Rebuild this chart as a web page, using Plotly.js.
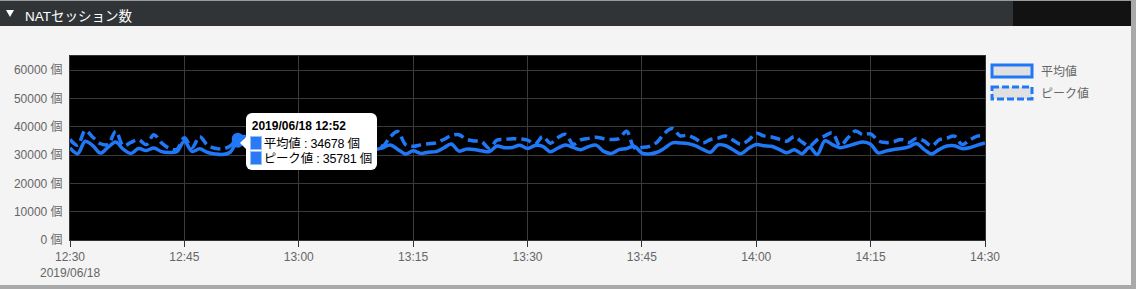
<!DOCTYPE html>
<html>
<head>
<meta charset="utf-8">
<script src="https://cdn.plot.ly/plotly-3.0.1.min.js"></script>
<style>
  html, body { margin:0; padding:0; }
  body { width:1136px; height:289px; background:#a9a9a9; position:relative; overflow:hidden;
         font-family: Arial, "Liberation Sans", "Noto Sans CJK JP", sans-serif; }
  #panel { position:absolute; left:0; top:0; width:1131px; height:285px; background:#f4f4f4; }
  #header { position:absolute; left:0; top:0; width:1131px; height:26px; background:#303436;
            border-top:1px solid #9a9a9a; box-sizing:border-box; z-index:5; }
  #header .dark { position:absolute; left:1013px; top:0; width:118px; height:25px; background:#121212; }
  #header .tri { position:absolute; left:6px; top:9px; width:0; height:0;
                 border-left:4.5px solid transparent; border-right:4.5px solid transparent; border-top:7px solid #fff; }
  #header .ttl { position:absolute; left:25px; top:4px; color:#fff; font-size:13.5px;
                 font-family: Arial, "Liberation Sans", "Noto Sans CJK JP", sans-serif; }
  #chart { position:absolute; left:0; top:0; width:1131px; height:285px; }
  #tip { position:absolute; z-index:4; background:#fff; border-radius:6px; width:131px; height:57px;
         box-sizing:border-box; padding:6px 0 0 4px; color:#000; display:none;
         font-family: Arial, "Liberation Sans", "Noto Sans CJK JP", sans-serif; }
  #tip:before { content:""; position:absolute; left:-6px; top:24px; border-top:6px solid transparent;
                border-bottom:6px solid transparent; border-right:6px solid #fff; }
  #tip .t { font-weight:bold; font-size:12px; line-height:14px; margin-bottom:3px; padding-left:2px; }
  #tip .r { font-size:12.5px; line-height:14px; white-space:nowrap; letter-spacing:-0.2px; }
  #tip .sq { display:inline-block; width:10px; height:12px; background:#2a7af5; border:1px solid #95bdf8;
             vertical-align:-2px; margin-right:2px; }
</style>
</head>
<body>
<div id="panel"></div>
<div id="chart"></div>
<div id="header"><div class="dark"></div><span class="tri"></span><span class="ttl">NATセッション数</span></div>
<div id="tip"></div>
<script>
// ---- data ----
const startTime = "2019-06-18 12:30";
const seriesNames = ["平均値", "ピーク値"];
const avgValues = [
  32500,30500,34900,33300,30700,32800,34600,32000,30600,32300,
  31600,32500,31200,30900,31200,34900,31300,32200,31000,30400,
  30200,31000,34678,33500,31800,32600,33900,31200,30800,32400,
  33100,31500,32800,34200,31400,30900,32300,33000,31600,32100,
  31900,32600,33600,32000,30400,31500,30600,31000,31200,32500,
  33900,31400,32100,32000,31500,31200,33200,32600,32700,33500,
  32300,33400,33100,31200,32500,33600,32700,31900,33000,33500,
  31300,30600,31900,32300,33100,30700,30400,31000,32500,34300,
  34300,34100,33300,32000,31000,33600,33300,31800,30500,32400,
  33700,33300,33100,32000,30800,31900,30500,32800,30200,35000,
  33700,32600,33200,34000,34600,33800,30800,31400,32000,32300,
  32900,34100,32000,30400,32000,33200,33300,32300,32600,33500,
  34300
];
const peakValues = [
  35500,33500,38700,36300,34000,33800,38400,33300,34500,35400,
  33700,37200,34300,32400,32000,36100,32600,36500,33600,32400,
  32200,33200,35781,36500,34200,35800,37900,34000,33500,36200,
  37000,34300,35600,38000,34700,33600,35900,36800,34400,35200,
  34600,33200,36500,38300,33700,33100,33600,34000,34300,35500,
  36900,37200,35600,35000,34700,32400,35300,35500,35800,35700,
  35300,33900,36600,34200,36200,37300,33800,35400,35900,36300,
  35800,35500,35800,38400,32600,32700,33100,34600,37800,39400,
  36800,37000,35800,34300,35500,36000,36700,35200,33800,35300,
  37700,36800,36400,35600,34900,36500,34600,33200,35400,36800,
  37800,33300,36000,38500,37200,37500,35000,34400,34700,35500,
  34400,35900,35000,33200,35400,36000,36700,33700,35300,36700,
  36700
];
const hoverIndex = 22;
const yTickSuffix = " 個";
const dateLabel = "2019/06/18";
const tipTitle = "2019/06/18 12:52";

// timestamps, one per minute from startTime
function pad(n){ return (n < 10 ? "0" : "") + n; }
const times = avgValues.map((_, i) => {
  const total = 12*60 + 30 + i;
  return "2019-06-18 " + pad(Math.floor(total/60)) + ":" + pad(total % 60);
});

const blue = "#2178f7";
const traces = [
  { x: times, y: avgValues, name: seriesNames[0], type: "scatter", mode: "lines",
    line: { color: blue, width: 3.5, shape: "spline", smoothing: 1 }, hoverinfo: "skip" },
  { x: times, y: peakValues, name: seriesNames[1], type: "scatter", mode: "lines",
    line: { color: blue, width: 3.5, shape: "spline", smoothing: 1, dash: "10px,5px" }, hoverinfo: "skip" },
  { x: [times[hoverIndex], times[hoverIndex]], y: [avgValues[hoverIndex], peakValues[hoverIndex]],
    type: "scatter", mode: "markers", marker: { color: blue, size: 12 }, hoverinfo: "skip" }
];

const gray = "#666";
const font = { family: 'Arial, "Liberation Sans", "Noto Sans CJK JP", sans-serif', size: 12, color: gray };
const L = 70, R = 985, T = 56, B = 240;
const pw = R - L, ph = B - T;
function px(x){ return (x - L) / pw; }
function py(y){ return (B - y) / ph; }

const layout = {
  width: 1131, height: 285,
  margin: { l: L, r: 1131 - R, t: T, b: 285 - B, pad: 0 },
  paper_bgcolor: "rgba(0,0,0,0)",
  plot_bgcolor: "#000",
  showlegend: false,
  font: font,
  xaxis: {
    type: "date",
    range: ["2019-06-18 12:30", "2019-06-18 14:30"],
    dtick: 15 * 60 * 1000, tick0: "2019-06-18 12:30",
    tickformat: "%H:%M",
    ticks: "outside", ticklen: 6, tickcolor: "#333", tickwidth: 1,
    showgrid: true, gridcolor: "#3a3a3a", gridwidth: 1,
    showline: true, linecolor: "#333", linewidth: 1, mirror: true,
    tickfont: font, zeroline: false, fixedrange: true
  },
  yaxis: {
    range: [0, 65000], dtick: 10000, tick0: 0,
    ticksuffix: yTickSuffix, tickformat: "d",
    ticks: "outside", ticklen: 4, tickcolor: "rgba(0,0,0,0)",
    showgrid: true, gridcolor: "#3a3a3a", gridwidth: 1,
    showline: true, linecolor: "#333", linewidth: 1, mirror: true,
    zeroline: false, tickfont: font, fixedrange: true
  },
  shapes: [
    { type: "rect", xref: "paper", yref: "paper", x0: px(992), x1: px(1032), y0: py(65), y1: py(77),
      fillcolor: "#e0e0e0", line: { color: blue, width: 3 } },
    { type: "rect", xref: "paper", yref: "paper", x0: px(992), x1: px(1032), y0: py(87), y1: py(99),
      fillcolor: "#e0e0e0", line: { color: blue, width: 3, dash: "7px,3px" } }
  ],
  annotations: [
    { xref: "paper", yref: "paper", x: px(1039), y: py(71), xanchor: "left", yanchor: "middle",
      text: seriesNames[0], showarrow: false, font: font },
    { xref: "paper", yref: "paper", x: px(1039), y: py(93), xanchor: "left", yanchor: "middle",
      text: seriesNames[1], showarrow: false, font: font },
    { xref: "x", yref: "paper", x: times[0], y: py(273), xanchor: "center", yanchor: "middle",
      text: dateLabel, showarrow: false, font: font }
  ]
};

const gd = document.getElementById("chart");
Plotly.newPlot(gd, traces, layout, { displayModeBar: false, staticPlot: true }).then(() => {
  const xa = gd._fullLayout.xaxis, ya = gd._fullLayout.yaxis;
  const cx = xa._offset + xa.l2p(xa.d2l(times[hoverIndex]));
  const cy = ya._offset + ya.l2p(avgValues[hoverIndex]);
  const tip = document.getElementById("tip");
  tip.innerHTML =
    '<div class="t">' + tipTitle + '</div>' +
    '<div class="r"><span class="sq"></span>' + seriesNames[0] + ' : ' + avgValues[hoverIndex] + yTickSuffix + '</div>' +
    '<div class="r"><span class="sq"></span>' + seriesNames[1] + ' : ' + peakValues[hoverIndex] + yTickSuffix + '</div>';
  tip.style.left = (cx + 8) + "px";
  tip.style.top = (cy - 29) + "px";
  tip.style.display = "block";
});
</script>
</body>
</html>
